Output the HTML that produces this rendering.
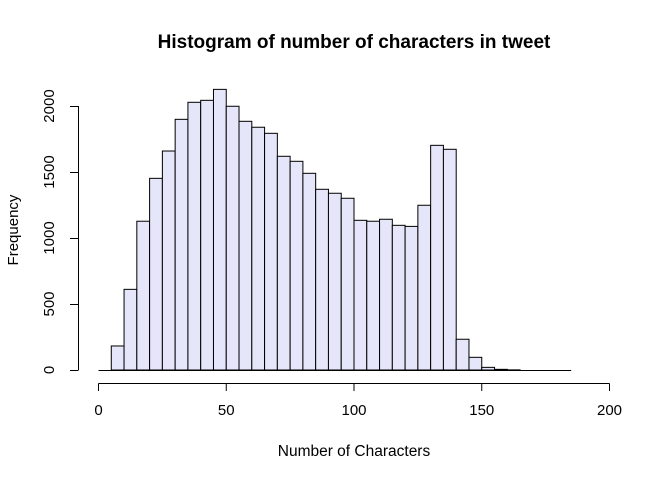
<!DOCTYPE html>
<html><head><meta charset="utf-8"><style>
body{margin:0;background:#fff}
svg text{font-family:"Liberation Sans",Arial,sans-serif;fill:#000}
</style></head><body>
<svg width="672" height="480" xmlns="http://www.w3.org/2000/svg">
<text x="354" y="48" font-size="19" font-weight="bold" text-anchor="middle">Histogram of number of characters in tweet</text>
<text x="354" y="456" font-size="15.5" text-anchor="middle">Number of Characters</text>
<text transform="translate(18,230) rotate(-90)" font-size="15" text-anchor="middle">Frequency</text>
<g id="bars"></g>
<g id="axes"></g>
</svg>
<script>
const binStarts = [5,10,15,20,25,30,35,40,45,50,55,60,65,70,75,80,85,90,95,100,105,110,115,120,125,130,135,140,145,150,155,160,165,170,175,180];
const counts = [182,611,1127,1452,1659,1899,2028,2043,2126,1998,1884,1839,1793,1619,1581,1490,1369,1339,1301,1134,1127,1142,1096,1088,1248,1702,1672,233,96,20,5,1,0,0,0,0];
const binWidth = 5;
const xTicks = [0,50,100,150,200];
const yTicks = [0,500,1000,1500,2000];
const NS="http://www.w3.org/2000/svg";
const xs = v => 98.5 + v*2.555;
const ys = v => 370 - v*0.132;
const bars = document.getElementById('bars');
const axes = document.getElementById('axes');
function mk(tag, attrs, parent){const e=document.createElementNS(NS,tag);for(const k in attrs)e.setAttribute(k,attrs[k]);parent.appendChild(e);return e;}
binStarts.forEach((b,i)=>{
  const x0=xs(b), x1=xs(b+binWidth), y=ys(counts[i]);
  const r=mk('rect',{x:x0,y:y,width:x1-x0,height:370-y,fill:'#e6e6fa',stroke:'#000','stroke-width':1},bars);
  
  
});
const bl=mk('line',{x1:xs(0),x2:xs(185),y1:370.5,y2:370.5,stroke:'#000'},bars);


const xa=mk('line',{x1:xs(0),x2:xs(200),y1:383.5,y2:383.5,stroke:'#000'},axes);


xTicks.forEach(t=>{
  mk('line',{x1:xs(t),x2:xs(t),y1:383.5,y2:391,stroke:'#000'},axes);
  const tx=mk('text',{x:xs(t),y:415,'font-size':15,'text-anchor':'middle'},axes);
  tx.textContent=t;
  
  
});
const ya=mk('line',{x1:78.5,x2:78.5,y1:ys(0),y2:ys(2000),stroke:'#000'},axes);


yTicks.forEach(t=>{
  mk('line',{x1:70,x2:78.5,y1:ys(t)+0.5,y2:ys(t)+0.5,stroke:'#000'},axes);
  const tx=mk('text',{transform:`translate(54,${ys(t)}) rotate(-90)`,'font-size':15,'text-anchor':'middle'},axes);
  tx.textContent=t;
  
  
});
</script>
</body></html>
